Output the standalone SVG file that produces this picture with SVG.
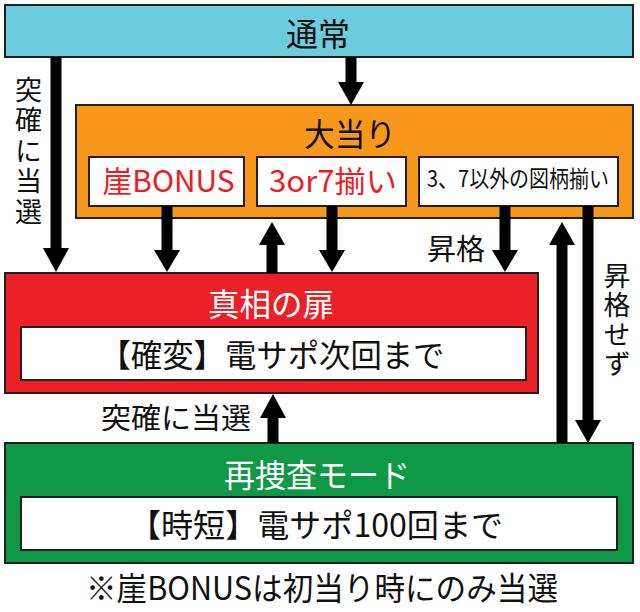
<svg xmlns="http://www.w3.org/2000/svg" width="640" height="612" viewBox="0 0 640 612">
<style>
.box{stroke:#231F20;stroke-width:2}
.in{fill:#fff;stroke:#231F20;stroke-width:2}
text{font-family:"Noto Sans CJK JP","Noto Sans",sans-serif;text-anchor:middle}
.t{font-size:32px;fill:#111}
.w{fill:#fff}
.r{fill:#ED1C24}
.a{fill:#000}
.v{font-size:27px;writing-mode:vertical-rl;text-anchor:start}
</style>
<rect width="640" height="612" fill="#fff"/>
<g id="tsujo">
<rect class="box" x="5" y="5" width="628" height="52" fill="#6DCCDD"/>
<text class="t" x="318" y="46" textLength="64" lengthAdjust="spacingAndGlyphs">通常</text>
</g>
<g id="oatari">
<rect class="box" x="76" y="105" width="557" height="113" fill="#F7981D"/>
<text class="t" x="350" y="146" textLength="92" lengthAdjust="spacingAndGlyphs">大当り</text>
</g>
<g id="gake">
<rect class="in" x="89" y="157" width="155" height="49"/>
<text class="t r" x="168.5" y="192" style="font-size:30px" textLength="132" lengthAdjust="spacingAndGlyphs">崖BONUS</text>
</g>
<g id="sorotsu37">
<rect class="in" x="257" y="157" width="149" height="49"/>
<text class="t r" x="333" y="192" style="font-size:30px" textLength="128" lengthAdjust="spacingAndGlyphs">3or7揃い</text>
</g>
<g id="igai">
<rect class="in" x="419" y="157" width="199" height="49"/>
<text class="t" x="518" y="187" style="font-size:23px" textLength="182" lengthAdjust="spacingAndGlyphs">3、7以外の図柄揃い</text>
</g>
<g id="shinso">
<rect class="box" x="5" y="273" width="533" height="120" fill="#EC2027"/>
<text class="t w" x="271" y="316" textLength="126" lengthAdjust="spacingAndGlyphs">真相の扉</text>
<rect class="in" x="21" y="327" width="505" height="53"/>
<text class="t" x="272" y="367" textLength="345" lengthAdjust="spacingAndGlyphs">【確変】電サポ次回まで</text>
</g>
<g id="saisousa">
<rect class="box" x="5" y="443" width="628" height="120" fill="#0F9846"/>
<text class="t w" x="317" y="487" textLength="186" lengthAdjust="spacingAndGlyphs">再捜査モード</text>
<rect class="in" x="21" y="497" width="596" height="53"/>
<text class="t" x="316" y="537" textLength="374" lengthAdjust="spacingAndGlyphs">【時短】電サポ100回まで</text>
</g>
<g id="connectors">
<rect class="a" x="345.5" y="57" width="11" height="26"/>
<polygon class="a" points="338,82 364,82 351,105"/>
<rect class="a" x="50.5" y="57" width="11" height="192"/>
<polygon class="a" points="43,248 69,248 56,272"/>
<rect class="a" x="161.5" y="206" width="11" height="45"/>
<polygon class="a" points="154,250 180,250 167,272"/>
<rect class="a" x="266.5" y="244" width="11" height="29"/>
<polygon class="a" points="259,245 285,245 272,222"/>
<rect class="a" x="326.5" y="206" width="11" height="45"/>
<polygon class="a" points="319,250 345,250 332,272"/>
<rect class="a" x="499.5" y="206" width="11" height="45"/>
<polygon class="a" points="492,250 518,250 505,272"/>
<rect class="a" x="556.5" y="244" width="11" height="199"/>
<polygon class="a" points="549,245 575,245 562,222"/>
<rect class="a" x="582.5" y="206" width="11" height="215"/>
<polygon class="a" points="575,420 601,420 588,443"/>
<rect class="a" x="267.5" y="417" width="11" height="26"/>
<polygon class="a" points="260,418 286,418 273,394"/>
</g>
<g id="labels" class="t">
<text class="v" x="28.5" y="76" letter-spacing="3.5">突確に当選</text>
<text class="v" x="617" y="262" letter-spacing="2.5">昇格せず</text>
<text x="456" y="260" style="font-size:29px" textLength="58" lengthAdjust="spacingAndGlyphs">昇格</text>
<text x="176" y="429" style="font-size:29px" textLength="150" lengthAdjust="spacingAndGlyphs">突確に当選</text>
<text x="322" y="600" textLength="472" lengthAdjust="spacingAndGlyphs">※崖BONUSは初当り時にのみ当選</text>
</g>
</svg>
